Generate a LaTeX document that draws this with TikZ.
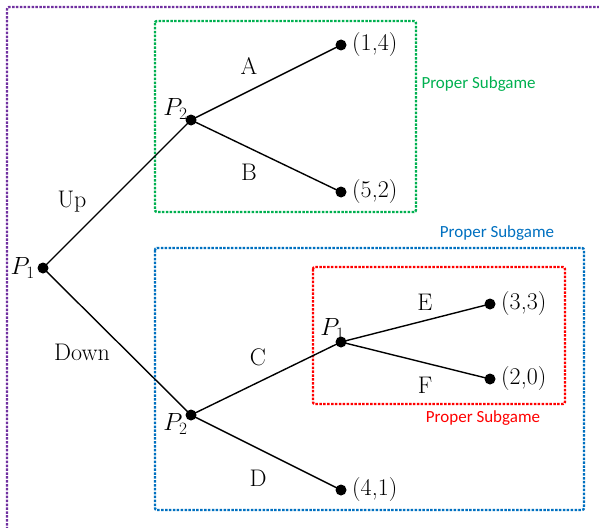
\documentclass[tikz,border=0pt]{standalone}
\usepackage{fontspec}
\newfontfamily\sgfont{Carlito}
\usetikzlibrary{positioning}
\definecolor{sgpurple}{RGB}{112,48,160}
\definecolor{sggreen}{RGB}{0,176,80}
\definecolor{sgblue}{RGB}{0,112,192}
\definecolor{sgred}{RGB}{255,0,0}

\begin{document}
\begin{tikzpicture}[x=1pt,y=-1pt,font=\fontsize{24}{28}\selectfont,
	dot/.style={circle,fill=black,inner sep=0pt,minimum size=11pt},
	branch/.style={line width=1.4pt},
	subgame/.style={line width=2.4pt,dash pattern=on 2.5pt off 1.4pt,rounded corners=2pt},
	sglabel/.style={font=\sgfont\fontsize{17}{20}\selectfont}]
	\useasboundingbox (0,0) rectangle (599,527);
	\clip (0,0) rectangle (599,527);
	
	% subgames
	\draw[subgame,sgpurple] (7,545) |- (615,7);
	\draw[subgame,sggreen] (155,21) rectangle (416,212);
	\draw[subgame,sgblue] (155,248) rectangle (584,510);
	\draw[subgame,sgred] (313,267) rectangle (565,404);
	\node[sglabel,sggreen,right] (sg1) at (418,84) {Proper Subgame};
	\node[sglabel,sgblue] (sg2) at (497,233) {Proper Subgame};
	\node[sglabel,sgred] (sg3) at (483,418) {Proper Subgame};
	
	% decision nodes
	\node[dot] (r) at (43,268) {};
	\node[dot] (u) at (191,120) {};
	\node[dot] (d) at (191,415) {};
	\node[dot] (c) at (341,342) {};
	\node[left=-1pt of r] {$P_1$};
	\node[above left=-7pt and -4pt of u] {$P_2$};
	\node[below left=-9pt and -4pt of d] {$P_2$};
	\node[above left=-5pt and -11pt of c] {$P_1$};
	
	% terminal nodes
	\node[dot] (t1) at (341,45) {};
	\node[dot] (t2) at (341,192) {};
	\node[dot] (t3) at (490,304) {};
	\node[dot] (t4) at (490,379) {};
	\node[dot] (t5) at (341,490) {};
	\node[right=2pt of t1] {(1,4)};
	\node[right=2pt of t2] {(5,2)};
	\node[right=2pt of t3] {(3,3)};
	\node[right=2pt of t4] {(2,0)};
	\node[right=2pt of t5] {(4,1)};
	
	% branches
	\draw[branch] (r.center) -- (u.center);
	\draw[branch] (r.center) -- (d.center);
	\draw[branch] (u.center) -- (t1.center);
	\draw[branch] (u.center) -- (t2.center);
	\draw[branch] (d.center) -- (c.center);
	\draw[branch] (d.center) -- (t5.center);
	\draw[branch] (c.center) -- (t3.center);
	\draw[branch] (c.center) -- (t4.center);
	
	\node at (72,202) {Up};
	\node at (82,352) {Down};
	\node at (249,66) {A};
	\node at (249,172) {B};
	\node at (258,357) {C};
	\node at (258,478) {D};
	\node at (425,302) {E};
	\node at (425,385) {F};
\end{tikzpicture}
\end{document}
